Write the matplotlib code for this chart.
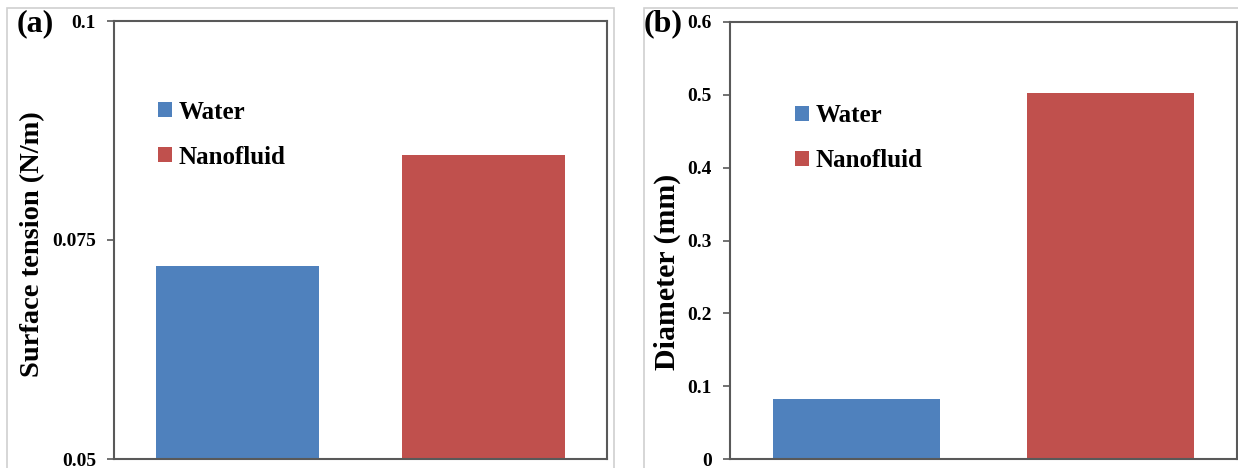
import matplotlib.pyplot as plt
from matplotlib.patches import Rectangle

fluids = ["Water", "Nanofluid"]
colors = ["#4F81BD", "#C0504D"]
surface_tension = [0.0720, 0.0847]
diameter = [0.082, 0.502]

plt.rcParams['font.family'] = ['Liberation Serif', 'DejaVu Serif']
plt.rcParams['font.weight'] = 'bold'

fig = plt.figure(figsize=(12.38, 4.68), dpi=100)

# light gray frames around each panel
fig.patches.append(Rectangle((7 / 1238, -0.05), 607 / 1238, 1 - 8 / 468 + 0.05,
                             transform=fig.transFigure, fill=False,
                             edgecolor="#d0d0d0", lw=1.2))
fig.patches.append(Rectangle((644 / 1238, -0.05), 600 / 1238, 1 - 8 / 468 + 0.05,
                             transform=fig.transFigure, fill=False,
                             edgecolor="#d0d0d0", lw=1.2))

ax1 = fig.add_axes([114 / 1238, 9 / 468, 493 / 1238, 438 / 468])
ax2 = fig.add_axes([730 / 1238, 9 / 468, 507 / 1238, 437 / 468])


def style(ax, values, ylim, yticks, yticklabels):
    x = range(len(fluids))
    bars = ax.bar(x, values, width=0.66, color=colors, label=fluids)
    ax.set_xlim(-0.5, 1.5)
    ax.set_ylim(*ylim)
    ax.set_yticks(yticks)
    ax.set_yticklabels(yticklabels, fontsize=14, fontweight='bold')
    ax.set_xticks([])
    for s in ax.spines.values():
        s.set_color("#595959")
        s.set_linewidth(1.5)
    ax.tick_params(axis='y', direction='out', length=5, width=1.2,
                   color="#595959", pad=8)
    return bars


b1 = style(ax1, surface_tension, (0.05, 0.1), [0.05, 0.075, 0.1],
           ["0.05", "0.075", "0.1"])
b2 = style(ax2, diameter, (0, 0.6), [0, 0.1, 0.2, 0.3, 0.4, 0.5, 0.6],
           ["0", "0.1", "0.2", "0.3", "0.4", "0.5", "0.6"])

for ax, bars, anchor in [(ax1, b1, (0.089, 0.818)), (ax2, b2, (0.128, 0.812))]:
    ax.legend(bars, fluids, loc='upper left', bbox_to_anchor=anchor,
              frameon=False, borderpad=0, borderaxespad=0,
              handlelength=0.56, handleheight=0.56,
              handletextpad=0.25, labelspacing=0.88,
              prop={'size': 18, 'weight': 'bold'})

fig.text(33 / 1238, 1 - 244 / 468, "Surface tension (N/m)", rotation=90,
         ha='center', va='center', fontsize=20.5, fontweight='bold')
fig.text(667 / 1238, 1 - 272 / 468, "Diameter (mm)", rotation=90,
         ha='center', va='center', fontsize=21.5, fontweight='bold')
fig.text(17 / 1238, 1 - 24 / 468, "(a)", ha='left', va='center',
         fontsize=23, fontweight='bold')
fig.text(644 / 1238, 1 - 24 / 468, "(b)", ha='left', va='center',
         fontsize=23, fontweight='bold')

fig.savefig("out.png", dpi=100)
